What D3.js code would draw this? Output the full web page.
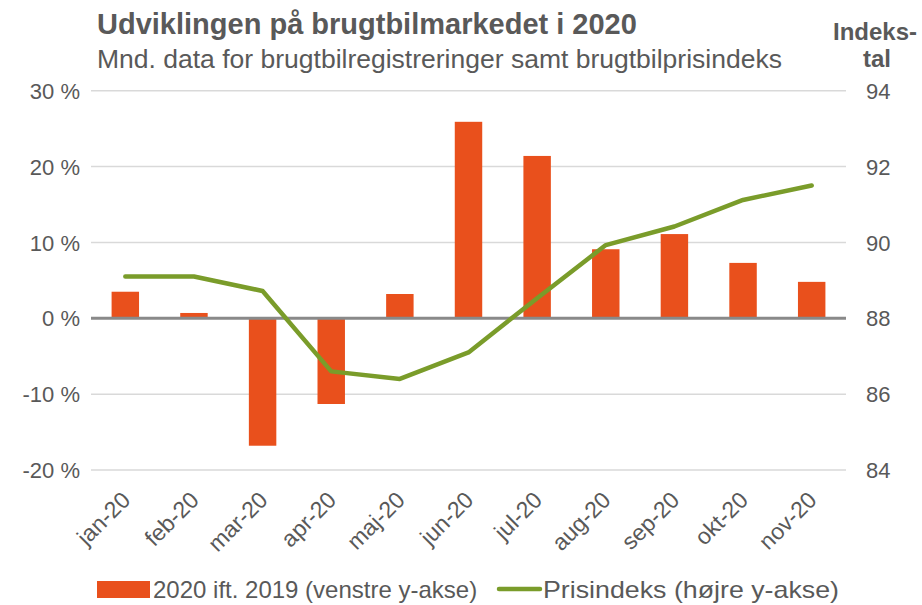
<!DOCTYPE html>
<html>
<head>
<meta charset="utf-8">
<script src="https://cdn.jsdelivr.net/npm/d3@7"></script>
<style>
  body { margin: 0; background: #fff; }
  text { font-family: "Liberation Sans", Arial, sans-serif; fill: #595959; }
</style>
</head>
<body>
<svg id="chart" width="922" height="605"></svg>
<script>
// data
var months = ["jan-20", "feb-20", "mar-20", "apr-20", "maj-20", "jun-20", "jul-20", "aug-20", "sep-20", "okt-20", "nov-20"];
var regChange = [3.5, 0.7, -16.8, -11.3, 3.2, 25.9, 21.4, 9.1, 11.1, 7.3, 4.8];
var priceIndex = [89.1, 89.1, 88.72, 86.6, 86.4, 87.1, 88.53, 89.93, 90.42, 91.12, 91.5];
var leftTicks = [-20, -10, 0, 10, 20, 30];
var rightTicks = [84, 86, 88, 90, 92, 94];

var svg = d3.select("#chart");
var plotLeft = 91, plotRight = 846, plotTop = 90.7, plotBottom = 470;

var xScale = d3.scaleBand()
    .domain(months)
    .range([plotLeft, plotRight])
    .paddingInner(0.6)
    .paddingOuter(0.3);

var yScale = d3.scaleLinear()
    .domain([-20, 30])
    .range([plotBottom, plotTop]);

var zScale = d3.scaleLinear()
    .domain([84, 94])
    .range([plotBottom, plotTop]);

// gridlines
svg.append("g")
    .selectAll("line")
    .data(leftTicks.filter(function (d) { return d !== 0; }))
    .enter().append("line")
    .attr("x1", plotLeft).attr("x2", plotRight)
    .attr("y1", function (d) { return yScale(d); })
    .attr("y2", function (d) { return yScale(d); })
    .style("stroke", "#d9d9d9")
    .style("stroke-width", 1.5);

// left axis
var y_axis = d3.axisLeft(yScale)
    .tickValues(leftTicks)
    .tickSize(0)
    .tickPadding(0)
    .tickFormat(function (d) { return d + " %"; });
var gy = svg.append("g").attr("transform", "translate(80,0)").call(y_axis);

// right axis
var z_axis = d3.axisRight(zScale)
    .tickValues(rightTicks)
    .tickSize(0)
    .tickPadding(0);
var gz = svg.append("g").attr("transform", "translate(866,0)").call(z_axis);

[gy, gz].forEach(function (g) {
    g.attr("font-family", null).attr("font-size", null);
    g.select(".domain").remove();
    g.selectAll("text")
        .attr("fill", null)
        .attr("dy", "0.35em")
        .style("font-size", "22px");
});

// bars
svg.append("g")
    .selectAll("rect")
    .data(regChange)
    .enter().append("rect")
    .attr("x", function (d, i) { return xScale(months[i]); })
    .attr("y", function (d) { return yScale(Math.max(0, d)); })
    .attr("width", xScale.bandwidth())
    .attr("height", function (d) { return Math.abs(yScale(d) - yScale(0)); })
    .style("fill", "#e9501c");

// zero line
svg.append("line")
    .attr("x1", plotLeft).attr("x2", plotRight)
    .attr("y1", yScale(0)).attr("y2", yScale(0))
    .style("stroke", "#898989")
    .style("stroke-width", 3);

// price index line
var line = d3.line()
    .x(function (d, i) { return xScale(months[i]) + xScale.bandwidth() / 2; })
    .y(function (d) { return zScale(d); });

svg.append("path")
    .attr("d", line(priceIndex))
    .style("fill", "none")
    .style("stroke", "#7a9c2a")
    .style("stroke-width", 4.5)
    .style("stroke-linecap", "round")
    .style("stroke-linejoin", "round");

// x labels, rotated
svg.append("g")
    .selectAll("text")
    .data(months)
    .enter().append("text")
    .attr("text-anchor", "end")
    .attr("transform", function (d) {
        var cx = xScale(d) + xScale.bandwidth() / 2 - 5;
        return "translate(" + cx + ",490) rotate(-45)";
    })
    .attr("dy", "0.7em")
    .style("font-size", "23px")
    .text(function (d) { return d; });

// titles
svg.append("text")
    .attr("x", 97).attr("y", 34)
    .style("font-size", "29px")
    .style("font-weight", "bold")
    .text("Udviklingen på brugtbilmarkedet i 2020");

svg.append("text")
    .attr("x", 97).attr("y", 68)
    .style("font-size", "26.5px")
    .text("Mnd. data for brugtbilregistreringer samt brugtbilprisindeks");

svg.append("text")
    .attr("x", 875).attr("y", 40)
    .attr("text-anchor", "middle")
    .style("font-size", "24px")
    .style("font-weight", "bold")
    .text("Indeks-");

svg.append("text")
    .attr("x", 877).attr("y", 67)
    .attr("text-anchor", "middle")
    .style("font-size", "24px")
    .style("font-weight", "bold")
    .text("tal");

// legend
svg.append("rect")
    .attr("x", 97).attr("y", 581)
    .attr("width", 53).attr("height", 17)
    .style("fill", "#e9501c");
svg.append("text")
    .attr("x", 153).attr("y", 598)
    .style("font-size", "24px")
    .text("2020 ift. 2019 (venstre y-akse)");

svg.append("line")
    .attr("x1", 499).attr("x2", 540)
    .attr("y1", 589).attr("y2", 589)
    .style("stroke", "#7a9c2a")
    .style("stroke-width", 4.5)
    .style("stroke-linecap", "round");
svg.append("text")
    .attr("x", 543).attr("y", 598)
    .attr("textLength", 296)
    .attr("lengthAdjust", "spacingAndGlyphs")
    .style("font-size", "24px")
    .text("Prisindeks (højre y-akse)");
</script>
</body>
</html>
